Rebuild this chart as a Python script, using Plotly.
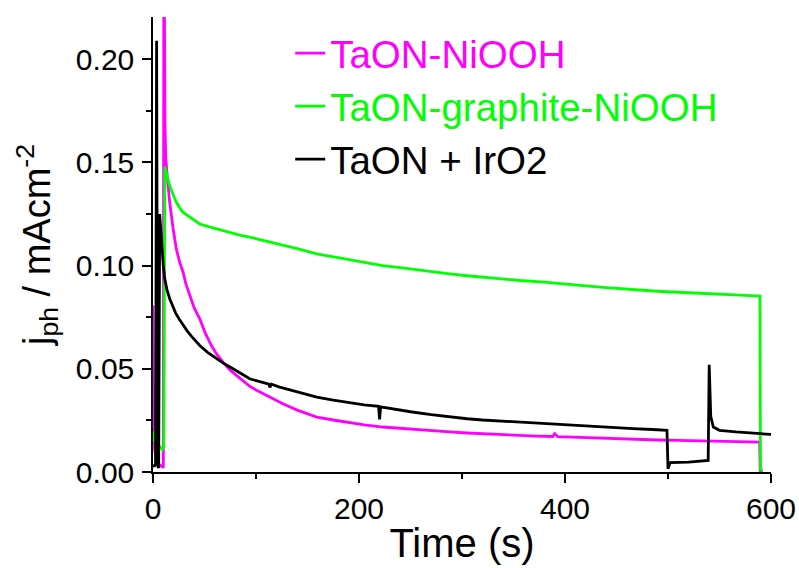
import plotly.graph_objects as go

# ---- data ----
series_names = ["TaON-NiOOH", "TaON-graphite-NiOOH", "TaON + IrO2"]
series_colors = ["#ff00ff", "#00ff00", "#000000"]

t_nioh = [0, 0.65, 1.6, 3, 4.9, 7, 9.1, 10.0, 10.6, 11.6, 12.3, 14, 16.2, 19.5, 22.7, 26, 29.2, 32, 35.6,
          40, 45.4, 51, 56.7, 62, 68, 74, 81, 88, 94, 102, 110, 118, 126, 140, 159, 175, 190, 205, 223,
          240, 255, 270, 288, 305, 320, 337, 356, 372, 388, 390, 393, 410, 430, 448, 466, 490, 510,
          531, 550, 570, 589, 589.5, 592]
j_nioh = [0.0807, 0.027, 0.0113, 0.006, 0.004, 0.003, 0.0025, 0.0025, 0.28, 0.17, 0.153, 0.142, 0.1307,
          0.118, 0.108, 0.1015, 0.0968, 0.091, 0.0855, 0.0795, 0.0742, 0.067, 0.0613, 0.057, 0.0532,
          0.0498, 0.0468, 0.0438, 0.0415, 0.0392, 0.0371, 0.0351, 0.0331, 0.0300, 0.0266, 0.0252, 0.0240,
          0.0228, 0.0218, 0.0211, 0.0205, 0.0199, 0.0194, 0.0189, 0.0185, 0.0180, 0.0177, 0.0174, 0.0172,
          0.0186, 0.0171, 0.0168, 0.0165, 0.0161, 0.0157, 0.0155, 0.0153, 0.0150, 0.0149, 0.0147, 0.0145,
          0.0, 0.0]

t_graph = [0, 1, 3, 5, 7, 9, 10.5, 11.5, 13, 16.2, 19.5, 22.7, 26, 29.2, 33, 37, 41, 45.4, 53, 61.6, 70,
           77.7, 86, 94, 108, 123, 140, 159, 175, 190, 205, 223, 240, 255, 270, 288, 305, 320, 337, 356,
           380, 401.6, 420, 440, 466, 490, 510, 531, 550, 570, 589.3, 589.8, 592]
j_graph = [0.020, 0.015, 0.014, 0.013, 0.012, 0.011, 0.012, 0.148, 0.145, 0.1388, 0.1345, 0.1307, 0.128,
           0.1258, 0.1245, 0.1230, 0.1215, 0.1202, 0.1190, 0.1178, 0.1165, 0.1154, 0.1146, 0.1138, 0.1122,
           0.1105, 0.1082, 0.1057, 0.1042, 0.1028, 0.1014, 0.1000, 0.0990, 0.0980, 0.0970, 0.0960, 0.0951,
           0.0944, 0.0936, 0.0928, 0.0920, 0.0912, 0.0902, 0.0893, 0.0883, 0.0876, 0.0871, 0.0867, 0.0862,
           0.0857, 0.0852, 0.001, 0.001]

t_iro2 = [0, 1.5, 2.5, 3.5, 4.5, 5.5, 6.5, 8, 10, 11.4, 13.5, 16.2, 19, 22, 25.5, 29.2, 33, 37, 41, 45.4,
          53, 61.6, 70, 77.7, 86, 93.9, 102, 110, 112.5, 113.5, 115, 123, 140, 159, 175, 190, 205, 219,
          220, 221, 235, 250, 270, 288, 305, 320, 337, 356, 380, 401.6, 430, 466, 485, 499, 500, 502,
          520, 539, 540, 541.5, 544, 550, 566, 585, 600]
j_iro2 = [0.003, 0.003, 0.004, 0.209, 0.003, 0.002, 0.125, 0.112, 0.100, 0.0936, 0.0885, 0.0840, 0.0805,
          0.0770, 0.0740, 0.0710, 0.0685, 0.0660, 0.0635, 0.0613, 0.0580, 0.0549, 0.0522, 0.0500, 0.0475,
          0.0452, 0.0440, 0.0428, 0.0426, 0.0410, 0.0425, 0.0411, 0.0390, 0.0363, 0.0348, 0.0335, 0.0325,
          0.0318, 0.0255, 0.0316, 0.0303, 0.0292, 0.0278, 0.0266, 0.0258, 0.0252, 0.0247, 0.0242, 0.0234,
          0.0226, 0.0219, 0.0210, 0.0206, 0.0202, 0.0016, 0.0045, 0.0048, 0.0056, 0.052, 0.027, 0.0218,
          0.0202, 0.0194, 0.0186, 0.0182]

x_ticks = [0, 200, 400, 600]
y_ticks = [0.00, 0.05, 0.10, 0.15, 0.20]
y_tick_text = ["0.00", "0.05", "0.10", "0.15", "0.20"]
x_range = [0, 600]
y_range = [0, 0.2205]

FONT = "Liberation Sans, Arial, sans-serif"

fig = go.Figure()
for name, color, tx, jy in [
    (series_names[0], series_colors[0], t_nioh, j_nioh),
    (series_names[1], series_colors[1], t_graph, j_graph),
    (series_names[2], series_colors[2], t_iro2, j_iro2),
]:
    fig.add_trace(go.Scatter(
        x=tx, y=jy, mode="lines",
        name=f'<span style="color:{color}">{name}</span>',
        line=dict(color=color, width=2.8),
    ))

axis_line = dict(showline=True, linecolor="black", linewidth=1.5, showgrid=False, zeroline=False,
                 automargin=False)

fig.update_layout(
    width=799, height=568,
    margin=dict(l=153, r=28, t=17, b=96, autoexpand=False),
    paper_bgcolor="white", plot_bgcolor="white",
    font=dict(family=FONT, color="black"),
    showlegend=True,
    legend=dict(x=0.222, y=0.99, xanchor="left", yanchor="top",
                bgcolor="rgba(0,0,0,0)", font=dict(size=38.5, family=FONT),
                traceorder="normal"),
    xaxis=dict(range=x_range, tickvals=x_ticks, ticks="outside", ticklen=9, tickwidth=1.5,
               tickcolor="black", tickfont=dict(size=30),
               minor=dict(dtick=100, tick0=0, ticks="outside", ticklen=5, tickwidth=1.5, tickcolor="black"),
               title=dict(text="Time (s)", font=dict(size=40), standoff=5),
               **axis_line),
    yaxis=dict(range=y_range, tickvals=y_ticks, ticktext=y_tick_text, ticks="outside", ticklen=9,
               tickwidth=1.5, tickcolor="black", tickfont=dict(size=30), ticklabelstandoff=2,
               minor=dict(dtick=0.025, tick0=0, ticks="outside", ticklen=5, tickwidth=1.5, tickcolor="black"),
               title=dict(text="j<sub>ph</sub> / mAcm<sup>-2</sup>", font=dict(size=38), standoff=14),
               **axis_line),
    xaxis2=dict(range=x_range, overlaying="x", side="top", anchor="y", tickvals=x_ticks,
                showticklabels=False, ticks="inside", ticklen=6, tickwidth=1.5, tickcolor="black",
                minor=dict(dtick=100, tick0=0, ticks="inside", ticklen=6, tickwidth=1.5, tickcolor="black"),
                **axis_line),
    yaxis2=dict(range=y_range, overlaying="y", side="right", anchor="x", tickvals=y_ticks,
                showticklabels=False, ticks="inside", ticklen=9, tickwidth=1.5, tickcolor="black",
                minor=dict(dtick=0.025, tick0=0, ticks="inside", ticklen=5, tickwidth=1.5, tickcolor="black"),
                **axis_line),
)

# remove the browser's default 8 px page margin so the 799x568 figure fills the window exactly
fig.write_html("out.html",
               config={"displayModeBar": False},
               post_script="document.body.style.margin='0';document.body.style.overflow='hidden';")
